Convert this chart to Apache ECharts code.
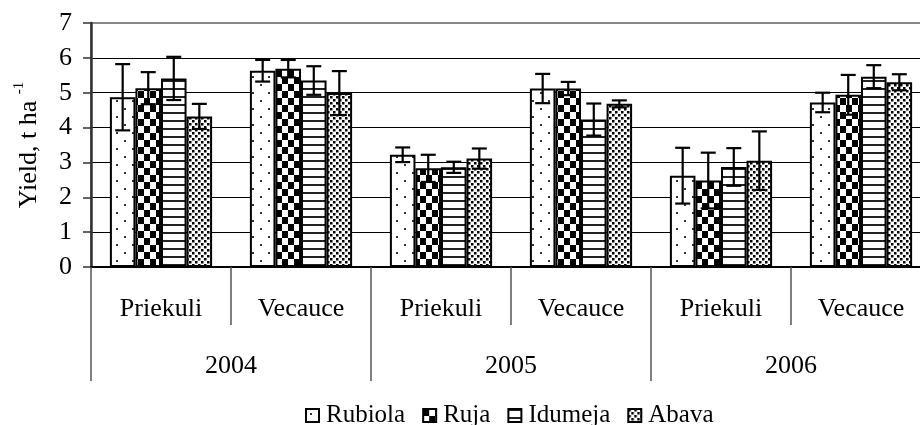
<!DOCTYPE html>
<html>
<head>
<meta charset="utf-8">
<script src="https://cdn.jsdelivr.net/npm/echarts@6/dist/echarts.min.js"></script>
<style>
html,body{margin:0;padding:0;background:#fff;}
#chart{width:920px;height:425px;}
</style>
</head>
<body>
<div id="chart"></div>
<script>
// ---- data ----
const categories = ['Priekuli', 'Vecauce', 'Priekuli', 'Vecauce', 'Priekuli', 'Vecauce'];
const years = ['2004', '2005', '2006'];
const seriesNames = ['Rubiola', 'Ruja', 'Idumeja', 'Abava'];
const rubiola    = [4.87, 5.63, 3.22, 5.12, 2.62, 4.72];
const rubiolaErr = [0.95, 0.31, 0.21, 0.42, 0.80, 0.28];
const ruja       = [5.13, 5.69, 2.83, 5.12, 2.48, 4.94];
const rujaErr    = [0.46, 0.25, 0.39, 0.19, 0.80, 0.57];
const idumeja    = [5.41, 5.35, 2.86, 4.23, 2.87, 5.46];
const idumejaErr = [0.62, 0.41, 0.16, 0.46, 0.54, 0.33];
const abava      = [4.32, 4.99, 3.11, 4.68, 3.05, 5.30];
const abavaErr   = [0.36, 0.63, 0.29, 0.10, 0.84, 0.23];
const yTicks = [0, 1, 2, 3, 4, 5, 6, 7];

const values = [rubiola, ruja, idumeja, abava];
const errors = [rubiolaErr, rujaErr, idumejaErr, abavaErr];

// ---- patterns ----
function makeTile(w, h, draw) {
  const c = document.createElement('canvas');
  c.width = w; c.height = h;
  const ctx = c.getContext('2d');
  ctx.fillStyle = '#fff';
  ctx.fillRect(0, 0, w, h);
  draw(ctx);
  return c;
}
const tiles = [
  makeTile(16, 16, ctx => { ctx.fillStyle = '#333'; ctx.fillRect(4, 4, 2, 2); ctx.fillRect(12, 12, 2, 2); }),
  makeTile(12, 14, ctx => { ctx.fillStyle = '#000'; ctx.fillRect(0, 0, 6, 7); ctx.fillRect(6, 7, 6, 7); }),
  makeTile(8, 8, ctx => { ctx.fillStyle = '#222'; ctx.fillRect(0, 0, 8, 2); }),
  makeTile(6, 6, ctx => { ctx.fillStyle = '#000'; ctx.fillRect(0, 0, 2.5, 2.5); ctx.fillRect(3, 3, 2.5, 2.5); })
];

const FONT = 'Liberation Serif';
const CAT_GAP = 0.27;

const series = [];
seriesNames.forEach((name, k) => {
  series.push({
    name: name,
    type: 'bar',
    xAxisIndex: 0,
    barGap: '0%',
    barCategoryGap: (CAT_GAP * 100) + '%',
    data: values[k],
    itemStyle: {
      color: { image: tiles[k], repeat: 'repeat' },
      borderColor: '#000',
      borderWidth: 2
    },
    z: 2
  });
});
seriesNames.forEach((name, k) => {
  series.push({
    name: name + ' err',
    type: 'custom',
    xAxisIndex: 0,
    z: 5,
    data: values[k].map((v, i) => [i, v - errors[k][i], v + errors[k][i]]),
    encode: { x: 0, y: [1, 2] },
    renderItem: function (params, api) {
      const idx = api.value(0);
      const lo = api.coord([idx, api.value(1)]);
      const hi = api.coord([idx, api.value(2)]);
      const band = api.size([1, 0])[0];
      const bw = band * (1 - CAT_GAP) / 4;
      const x = lo[0] + (k - 1.5) * bw;
      const cap = 7.5;
      const st = { stroke: '#000', lineWidth: 2.2 };
      return {
        type: 'group',
        children: [
          { type: 'line', shape: { x1: x, y1: lo[1], x2: x, y2: hi[1] }, style: st },
          { type: 'line', shape: { x1: x - cap, y1: lo[1], x2: x + cap, y2: lo[1] }, style: st },
          { type: 'line', shape: { x1: x - cap, y1: hi[1], x2: x + cap, y2: hi[1] }, style: st }
        ]
      };
    }
  });
});

const chart = echarts.init(document.getElementById('chart'), null, { renderer: 'canvas' });
chart.setOption({
  animation: false,
  backgroundColor: '#fff',
  textStyle: { fontFamily: FONT, color: '#000' },
  grid: {
    left: 91, top: 23, right: -11, bottom: 158,
    outerBoundsMode: 'none',
    containLabel: false,
    show: true, borderColor: '#888', borderWidth: 2, backgroundColor: 'transparent'
  },
  legend: {
    data: seriesNames.map(n => ({ name: n, icon: 'rect' })),
    left: 300,
    top: 398,
    itemWidth: 13,
    itemHeight: 13,
    itemGap: 17,
    itemStyle: { borderColor: '#000', borderWidth: 2 },
    textStyle: { fontFamily: FONT, fontSize: 25, color: '#000', padding: [0, 0, 0, 2] }
  },
  xAxis: [
    {
      type: 'category',
      data: categories,
      position: 'bottom',
      axisLine: { show: true, lineStyle: { color: '#000', width: 2 } },
      axisTick: { show: true, interval: 0, length: 58, lineStyle: { color: '#555', width: 1.5 } },
      axisLabel: { interval: 0, fontFamily: FONT, fontSize: 26, color: '#000', margin: 29 }
    },
    {
      type: 'category',
      data: years,
      position: 'bottom',
      axisLine: { show: false },
      axisTick: { show: true, interval: 0, length: 114, lineStyle: { color: '#555', width: 1.5 } },
      axisLabel: { interval: 0, fontFamily: FONT, fontSize: 26, color: '#000', margin: 86 }
    }
  ],
  yAxis: {
    type: 'value',
    min: yTicks[0],
    max: yTicks[yTicks.length - 1],
    interval: 1,
    axisLine: { show: true, lineStyle: { color: '#333', width: 2.5 } },
    axisTick: { show: true, inside: false, length: 8, lineStyle: { color: '#333', width: 1.5 } },
    axisLabel: { fontFamily: FONT, fontSize: 26, color: '#000', margin: 19 },
    splitLine: { show: true, lineStyle: { color: ['#000', '#000', '#000', '#000', '#000', '#000', '#000', 'transparent'], width: 1 } },
    name: 'Yield, t ha {s|-1}',
    nameLocation: 'middle',
    nameRotate: 90,
    nameGap: 45,
    nameTextStyle: {
      fontFamily: FONT, fontSize: 26, color: '#000', lineHeight: 34, verticalAlign: 'bottom',
      rich: { s: { fontFamily: FONT, fontSize: 15, lineHeight: 15, verticalAlign: 'top', color: '#000' } }
    }
  },
  series: series
});
</script>
</body>
</html>
